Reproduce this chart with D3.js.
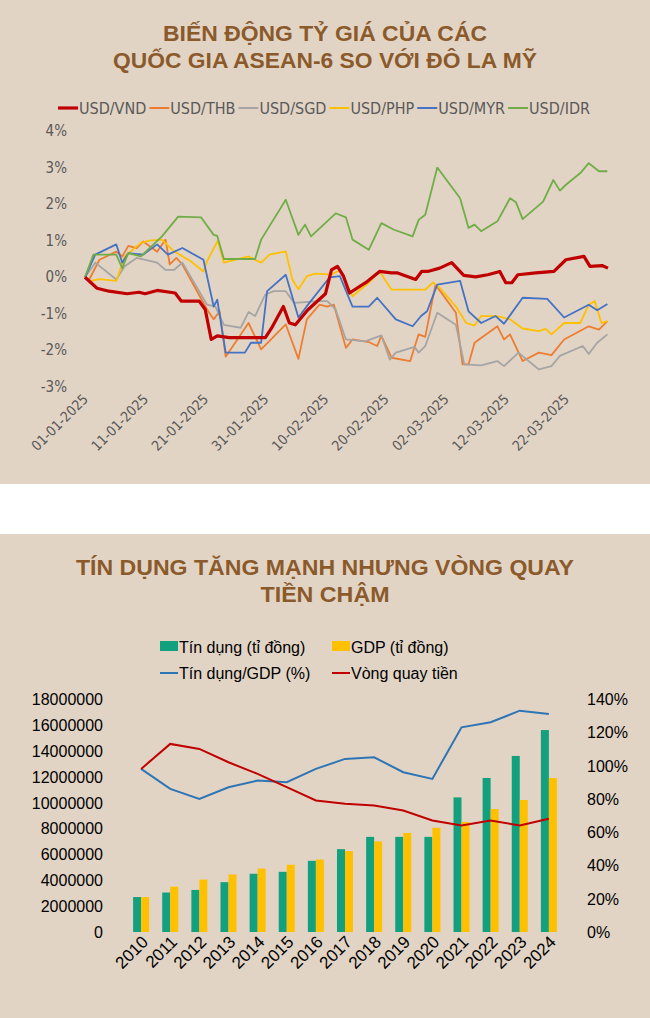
<!DOCTYPE html>
<html><head><meta charset="utf-8">
<script src="https://cdn.jsdelivr.net/npm/d3@7"></script>
<style>
body{margin:0;background:#fff;}
svg{display:block;}
</style></head>
<body><svg id="c" width="650" height="1018"></svg>
<script>
// ---- chart 1: exchange rates, [day since 01-01-2025, % change]
const fxNames = ["USD/VND","USD/THB","USD/SGD","USD/PHP","USD/MYR","USD/IDR"];
const fxColors = ["#c00000","#ed7d31","#a5a5a5","#ffc000","#4472c4","#70ad47"];
const vnd = [[0,0],[2,-0.3],[4,-0.38],[7,-0.45],[9,-0.41],[10,-0.45],[12,-0.36],[15,-0.43],[16,-0.65],[19,-0.65],[20,-0.88],[21,-1.7],[22,-1.6],[24,-1.65],[30,-1.65],[31,-1.4],[33,-0.8],[34,-1.25],[35,-1.3],[37,-0.9],[40,-0.45],[41,0.2],[42,0.3],[43,0.03],[44,-0.43],[47,-0.11],[49,0.16],[51,0.12],[52,0.12],[55,-0.06],[56,0.16],[57,0.16],[59,0.25],[61,0.4],[63,0.05],[65,0.01],[67,0.07],[69,0.16],[70,-0.15],[71,-0.15],[72,0.07],[75,0.12],[78,0.16],[80,0.48],[83,0.57],[84,0.3],[86,0.32],[87,0.25]];
const thb = [[0,0],[0.7,-0.06],[2.4,0.48],[5.2,0.7],[6.2,0.57],[7.2,0.86],[8.6,0.8],[9.7,0.98],[12,0.7],[13.4,1.03],[14.1,0.35],[15.2,0.53],[16.2,0.35],[20.3,-0.88],[21.4,-1.15],[22.4,-0.93],[23.4,-2.17],[27.2,-1.25],[29.3,-1.97],[33.4,-1.29],[35.5,-2.23],[36.9,-1.15],[39,-0.75],[40.3,-0.8],[41.4,-0.75],[43.4,-1.93],[44.5,-1.7],[47.2,-1.77],[48.6,-1.88],[49.3,-1.6],[51,-2.2],[54.1,-2.29],[55.5,-1.56],[56.6,-1.63],[58.3,-0.2],[61.7,-0.97],[62.8,-2.38],[63.8,-2.38],[64.8,-1.79],[68.6,-1.34],[69.7,-1.7],[70.7,-1.56],[72.8,-2.29],[75.5,-2.06],[77.6,-2.13],[79.7,-1.7],[83.8,-1.34],[85.5,-1.43],[86.9,-1.2]];
const sgd = [[0,0],[1.7,0.4],[5.2,-0.06],[6.6,0.3],[8.6,0.53],[12,0.4],[13.4,0.2],[14.8,0.2],[16.2,0.4],[20.3,-0.75],[21.7,-0.8],[23.1,-1.3],[25.9,-1.38],[27.2,-0.95],[28.3,-1.06],[30,-0.47],[31.4,-0.38],[33.4,-0.38],[34.8,-0.7],[39,-0.65],[40.3,-0.65],[41.7,-0.88],[43.4,-1.7],[46.6,-1.75],[49.3,-1.59],[50.7,-2.25],[51.7,-2.06],[54.8,-1.9],[55.5,-2.06],[56.6,-1.88],[58.6,-0.97],[61.7,-1.3],[63.1,-2.38],[65.9,-2.41],[68.6,-2.29],[69.7,-2.43],[72.1,-2.06],[75.5,-2.52],[77.6,-2.43],[79,-2.15],[82.8,-1.88],[83.8,-2.1],[85.2,-1.79],[86.9,-1.56]];
const php = [[0,0],[1,-0.1],[2.4,-0.05],[5.2,-0.1],[6.6,0.57],[9.3,0.94],[10.7,1.0],[12.8,1.03],[14.8,0.71],[17.6,0.44],[19.7,0.16],[20.3,0.44],[22.1,1.0],[23.1,0.4],[27.2,0.57],[29.3,0.4],[30.7,0.62],[33.4,0.71],[34.5,-0.06],[35.5,-0.33],[36.9,0.03],[38.3,0.1],[41,0.07],[42.4,0.2],[44.5,-0.52],[47.2,-0.15],[49,0.16],[51,-0.34],[54.1,-0.34],[56.6,-0.34],[57.9,-0.14],[59,-0.29],[61.7,-0.8],[63.4,-1.25],[64.8,-1.32],[65.9,-1.06],[68.6,-1.06],[70.7,-1.15],[72.8,-1.4],[75.5,-1.47],[76.6,-1.41],[77.6,-1.56],[79.7,-1.25],[82.4,-1.25],[83.8,-0.75],[84.8,-0.65],[85.9,-1.25],[86.9,-1.2]];
const myr = [[0,0],[1.7,0.62],[5.2,0.9],[6.2,0.4],[7.2,0.66],[9.7,0.62],[12,0.9],[13.8,0.62],[16.2,0.8],[19.7,0.48],[21.4,-0.8],[22,-0.61],[23.4,-2.06],[26.6,-2.06],[27.6,-1.79],[29.3,-1.79],[30.3,-0.38],[33.4,0.07],[35.5,-1.1],[36.9,-0.79],[40.7,0],[42.4,0.03],[44.5,-0.8],[47.2,-0.8],[48.6,-0.56],[51.7,-1.15],[54.5,-1.34],[55.9,-1.06],[56.9,-0.93],[58.6,-0.2],[62.4,-0.1],[63.8,-0.93],[65.9,-1.25],[68.3,-1.06],[69.7,-1.27],[72.8,-0.56],[76.9,-0.59],[79.7,-1.1],[83.8,-0.75],[85.2,-0.9],[86.9,-0.73]];
const idr = [[0,0],[1.4,0.62],[5.2,0.62],[6.2,0.25],[7.2,0.66],[9.3,0.57],[12.8,1.12],[15.5,1.66],[19.3,1.64],[21.4,1.16],[22,1.13],[23.1,0.5],[28.3,0.5],[29.3,1.03],[33.4,2.12],[35.5,1.16],[36.6,1.44],[37.6,1.12],[41.7,1.75],[43.4,1.64],[44.5,1.03],[47.2,0.75],[49.3,1.48],[51.4,1.3],[54.5,1.12],[55.5,1.57],[56.6,1.71],[58.6,3.0],[62.4,2.16],[63.8,1.35],[64.8,1.44],[65.9,1.26],[68.6,1.53],[70.7,2.16],[71.7,2.05],[72.8,1.59],[76.2,2.07],[77.9,2.66],[79,2.37],[80,2.53],[82.4,2.85],[83.8,3.12],[85.5,2.9],[86.9,2.9]];
const fxSeries = [vnd, thb, sgd, php, myr, idr];
const fxTicks = [-3,-2,-1,0,1,2,3,4];
const dateTickDays = [0,10,20,30,40,50,60,70,80];

// ---- chart 2: credit vs GDP
const years = ["2010","2011","2012","2013","2014","2015","2016","2017","2018","2019","2020","2021","2022","2023","2024"];
const credit = [2700000,3050000,3250000,3850000,4500000,4650000,5500000,6400000,7350000,7350000,7350000,10400000,11900000,13600000,15600000];
const gdp = [2700000,3500000,4050000,4450000,4900000,5200000,5600000,6250000,7000000,7650000,8050000,8500000,9500000,10200000,11900000];
const creditGdp = [98,86,80,87,91,90,98,104,105,96,92,123,126,133,131];
const velocity = [98,113,110,102,95,87,79,77,76,73,67,64,67,64,68];

const svg = d3.select("#c");
const bg = "#e2d4c5", brown = "#8b5a2b";
const titleFont = "'Liberation Sans','Arial',sans-serif";
const narrow = "'Liberation Sans Narrow','DejaVu Sans Condensed',sans-serif";

svg.append("rect").attr("width",650).attr("height",484).attr("fill",bg);
svg.append("rect").attr("y",534).attr("width",650).attr("height",484).attr("fill",bg);

function title(lines, widths, y0) {
  lines.forEach((t,i) => svg.append("text").attr("x",325).attr("y",y0+i*27)
    .attr("text-anchor","middle").attr("fill",brown).attr("font-family",titleFont)
    .attr("font-weight","bold").attr("font-size",22)
    .attr("textLength",widths[i]).attr("lengthAdjust","spacingAndGlyphs").text(t));
}
title(["BIẾN ĐỘNG TỶ GIÁ CỦA CÁC","QUỐC GIA ASEAN-6 SO VỚI ĐÔ LA MỸ"], [324,424], 41);

// chart 1
const x1 = d3.scaleLinear().domain([0,87]).range([85,608]);
const y1 = d3.scaleLinear().domain([-3,4]).range([387,131]);
const g1 = svg.append("g").attr("font-family",narrow).attr("fill","#595959");
fxTicks.forEach(t => g1.append("text").attr("x",67).attr("y",y1(t)+5).attr("text-anchor","end")
  .attr("font-size",15).text(t+"%"));
const fmt = d3.timeFormat("%d-%m-%Y");
const start = new Date(2025,0,1);
dateTickDays.forEach(d => g1.append("text")
  .attr("transform",`translate(${x1(d)+4},${400}) rotate(-45)`).attr("text-anchor","end")
  .attr("font-size",14).text(fmt(d3.timeDay.offset(start,d))));
const line1 = d3.line().x(d=>x1(d[0])).y(d=>y1(d[1]));
[1,2,3,4,5,0].forEach(i => svg.append("path").datum(fxSeries[i]).attr("d",line1)
  .attr("fill","none").attr("stroke",fxColors[i]).attr("stroke-width",i===0?3.2:1.8)
  .attr("stroke-linejoin","round"));
// legend
let lx = 58;
fxNames.forEach((n,i) => {
  svg.append("line").attr("x1",lx).attr("x2",lx+20).attr("y1",108).attr("y2",108)
    .attr("stroke",fxColors[i]).attr("stroke-width",i===0?3.2:2);
  const t = svg.append("text").attr("x",lx+21).attr("y",114).attr("fill","#595959")
    .attr("font-family",narrow).attr("font-size",16).text(n);
  lx += 21 + t.node().getComputedTextLength() + 3;
});

// chart 2
title(["TÍN DỤNG TĂNG MẠNH NHƯNG VÒNG QUAY","TIỀN CHẬM"], [498,129], 575);
const x2 = d3.scaleBand().domain(years).range([120,570]).padding(0.45);
const yL = d3.scaleLinear().domain([0,18000000]).range([932,699]);
const yR = d3.scaleLinear().domain([0,140]).range([932,699]);
const g2 = svg.append("g").attr("font-family","'Liberation Sans','Arial',sans-serif").attr("fill","#000");
yL.ticks(9).forEach(t => g2.append("text").attr("x",103).attr("y",yL(t)+6).attr("text-anchor","end")
  .attr("font-size",16).text(t));
d3.range(0,141,20).forEach(t => g2.append("text").attr("x",587).attr("y",yR(t)+6)
  .attr("font-size",16).text(t+"%"));
years.forEach(y => g2.append("text")
  .attr("transform",`translate(${x2(y)+x2.bandwidth()/2+8},${943}) rotate(-45)`).attr("text-anchor","end")
  .attr("font-size",17).text(y));
const bw = x2.bandwidth()/2;
svg.selectAll(".cr").data(credit).join("rect").attr("x",(d,i)=>x2(years[i])).attr("width",bw)
  .attr("y",d=>yL(d)).attr("height",d=>932-yL(d)).attr("fill","#12a07f");
svg.selectAll(".gd").data(gdp).join("rect").attr("x",(d,i)=>x2(years[i])+bw).attr("width",bw)
  .attr("y",d=>yL(d)).attr("height",d=>932-yL(d)).attr("fill","#ffc000");
const line2 = d3.line().x((d,i)=>x2(years[i])+bw).y(d=>yR(d));
svg.append("path").datum(creditGdp).attr("d",line2).attr("fill","none").attr("stroke","#2e75b6").attr("stroke-width",2);
svg.append("path").datum(velocity).attr("d",line2).attr("fill","none").attr("stroke","#c00000").attr("stroke-width",2);

// legend 2
const lg = svg.append("g").attr("font-family","'Liberation Sans','Arial',sans-serif").attr("font-size",16).attr("fill","#000");
lg.append("rect").attr("x",160).attr("y",641).attr("width",18).attr("height",10).attr("fill","#12a07f");
lg.append("text").attr("x",179).attr("y",653).text("Tín dụng (tỉ đồng)");
lg.append("rect").attr("x",332).attr("y",641).attr("width",18).attr("height",10).attr("fill","#ffc000");
lg.append("text").attr("x",351).attr("y",653).text("GDP (tỉ đồng)");
lg.append("line").attr("x1",160).attr("x2",178).attr("y1",673).attr("y2",673).attr("stroke","#2e75b6").attr("stroke-width",2);
lg.append("text").attr("x",179).attr("y",679).text("Tín dụng/GDP (%)");
lg.append("line").attr("x1",332).attr("x2",350).attr("y1",673).attr("y2",673).attr("stroke","#c00000").attr("stroke-width",2);
lg.append("text").attr("x",351).attr("y",679).text("Vòng quay tiền");
</script></body></html>
